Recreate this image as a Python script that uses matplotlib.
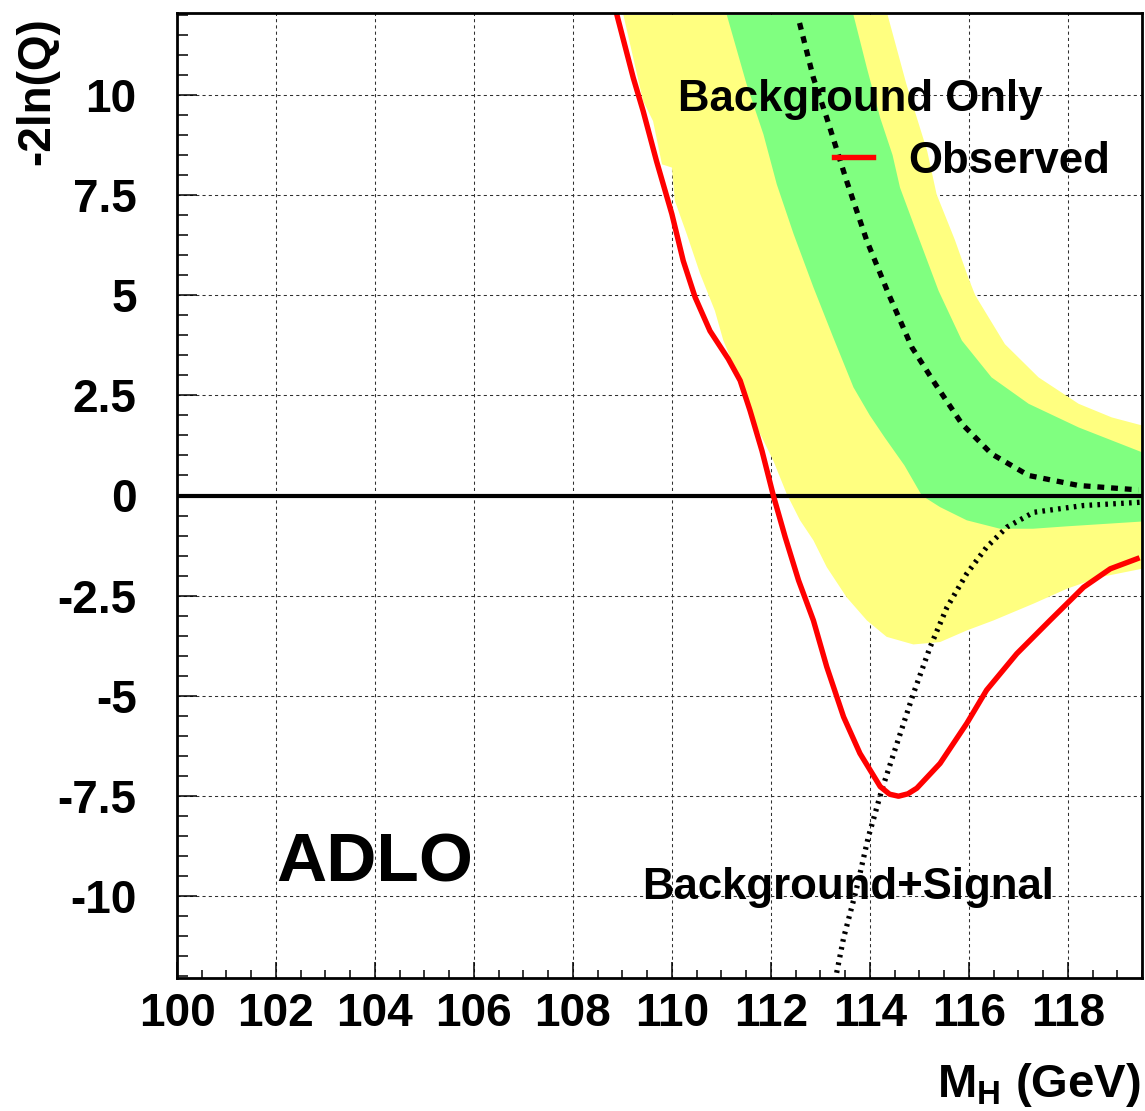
import matplotlib
matplotlib.use("Agg")
import matplotlib.pyplot as plt
import numpy as np

plt.rcParams['font.family'] = ['Liberation Sans', 'DejaVu Sans']
plt.rcParams['font.weight'] = 'bold'
plt.rcParams['mathtext.fontset'] = 'custom'
plt.rcParams['mathtext.rm'] = 'Liberation Sans:bold'
plt.rcParams['mathtext.bf'] = 'Liberation Sans:bold'
plt.rcParams['mathtext.it'] = 'Liberation Sans:bold'

# observed -2ln(Q) versus Higgs mass
obs_m = [108.89, 109.22, 109.42, 109.69, 110.00, 110.23, 110.47, 110.77, 111.14, 111.38,
         111.58, 111.82, 112.05, 112.29, 112.56, 112.86, 113.13, 113.47, 113.80, 114.21,
         114.40, 114.58, 114.77, 114.95, 115.42, 115.96, 116.36, 116.97, 117.64, 118.32,
         118.86, 119.40]
obs_q = [12.0, 10.43, 9.60, 8.35, 7.03, 5.86, 4.95, 4.11, 3.41, 2.87,
         2.12, 1.12, 0.0, -1.04, -2.12, -3.12, -4.28, -5.53, -6.44, -7.27,
         -7.46, -7.51, -7.45, -7.31, -6.69, -5.69, -4.86, -3.95, -3.12, -2.29,
         -1.83, -1.58]

# expected for background only (median)
bkg_m = [112.58, 112.86, 113.13, 113.53, 113.94, 114.38, 114.85, 115.32, 115.86, 116.46,
         117.21, 118.22, 119.43]
bkg_q = [11.80, 10.43, 9.43, 7.86, 6.36, 5.03, 3.70, 2.79, 1.79, 1.04,
         0.50, 0.25, 0.14]

# expected for background + signal
sig_m = [113.33, 113.47, 113.72, 113.97, 114.07, 114.24, 114.55, 114.88, 115.22, 115.56,
         115.96, 116.36, 116.77, 117.31, 118.32, 119.46]
sig_q = [-11.92, -11.05, -9.88, -8.53, -8.10, -7.36, -6.19, -4.95, -3.78, -2.79,
         -1.95, -1.29, -0.79, -0.42, -0.25, -0.17]

# 2 sigma band edges
lo2_m = [109.02, 109.42, 109.62, 109.80, 110.00, 110.06, 110.30, 110.57, 110.87, 111.04,
         111.38, 111.72, 112.05, 112.32, 112.59, 112.86, 113.13, 113.53, 113.94, 114.34,
         114.88, 115.42, 115.96, 116.50, 117.31, 117.98, 118.65, 119.50]
lo2_q = [12.0, 9.85, 9.35, 8.27, 8.19, 7.36, 6.53, 5.54, 4.61, 3.87,
         2.87, 1.70, 0.87, 0.04, -0.62, -1.12, -1.79, -2.54, -3.12, -3.53,
         -3.72, -3.66, -3.37, -3.12, -2.70, -2.33, -2.04, -1.83]
hi2_m = [114.36, 114.74, 115.16, 115.35, 115.72, 115.99, 116.13, 116.73, 117.41, 118.22,
         118.89, 119.50]
hi2_q = [12.0, 10.27, 8.60, 7.52, 6.38, 5.44, 5.0, 3.78, 2.95, 2.29,
         1.95, 1.75]

# 1 sigma band edges
lo1_m = [111.11, 111.51, 111.85, 112.12, 112.46, 112.86, 113.26, 113.67, 114.00, 114.30,
         114.70, 115.05, 115.42, 115.96, 116.63, 117.30, 117.98, 119.50]
lo1_q = [12.0, 10.27, 9.02, 7.77, 6.53, 5.20, 3.95, 2.70, 2.00, 1.45,
         0.75, 0.0, -0.29, -0.62, -0.83, -0.83, -0.77, -0.65]
hi1_m = [113.67, 113.94, 114.21, 114.46, 114.61, 114.91, 115.39, 115.86, 116.46, 117.21,
         118.22, 119.50]
hi1_q = [12.0, 10.68, 9.43, 8.50, 7.69, 6.69, 5.11, 3.87, 2.95, 2.29,
         1.70, 1.08]

xticks = [100, 102, 104, 106, 108, 110, 112, 114, 116, 118]
yticks = [-10, -7.5, -5, -2.5, 0, 2.5, 5, 7.5, 10]
ylabels = ['-10', '-7.5', '-5', '-2.5', '0', '2.5', '5', '7.5', '10']

fig = plt.figure(figsize=(11.45, 11.11), dpi=100)
ax = fig.add_axes([177/1145, 133/1111, 965/1145, 965/1111])

# bands: lower edge left to right, then upper edge back
ax.fill(lo2_m + hi2_m[::-1], lo2_q + hi2_q[::-1], color='#ffff80', lw=0, zorder=1)
ax.fill(lo1_m + hi1_m[::-1], lo1_q + hi1_q[::-1], color='#80ff80', lw=0, zorder=2)

ax.plot(bkg_m, bkg_q, color='k', lw=3.8, linestyle=(0, (1.3, 1.3)),
        dash_capstyle='butt', zorder=3)
ax.plot(sig_m, sig_q, color='k', lw=3.8, linestyle=(0, (0.5, 1.0)),
        dash_capstyle='butt', zorder=3)
ax.axhline(0, color='k', lw=3.0, zorder=4)
obs, = ax.plot(obs_m, obs_q, color='#ff0000', lw=3.9, zorder=5, label='Observed',
               solid_joinstyle='round')

ax.set_xlim(100, 119.5)
ax.set_ylim(-12.05, 12.05)
ax.set_xticks(xticks)
ax.set_xticklabels([str(t) for t in xticks])
ax.set_xticks(np.arange(100, 119.6, 0.5), minor=True)
ax.set_yticks(yticks)
ax.set_yticklabels(ylabels)
ax.set_yticks(np.arange(-12, 12.01, 0.5), minor=True)

ax.tick_params(axis='x', which='major', direction='in', length=11.5, width=1.1,
               labelsize=33, pad=10, top=False)
ax.tick_params(axis='x', which='minor', direction='in', length=5.8, width=1.1, top=False)
ax.tick_params(axis='y', which='major', direction='in', length=14.4, width=1.1,
               labelsize=33, pad=29, right=False)
ax.tick_params(axis='y', which='minor', direction='in', length=8, width=1.1, right=False)

ax.set_axisbelow(True)
ax.grid(True, which='major', color='#303030', linestyle=(0, (3, 3)), linewidth=0.75)
for s in ax.spines.values():
    s.set_linewidth(2.0)
    s.set_zorder(6)

ax.text(110.13, 9.6, 'Background Only', fontsize=31.5, ha='left', va='baseline', zorder=7)
ax.text(109.39, -10.07, 'Background+Signal', fontsize=31.5, ha='left', va='baseline', zorder=7)
ax.text(102.01, -9.64, 'ADLO', fontsize=50, ha='left', va='baseline', zorder=7)

ax.legend(handles=[obs], loc='center left', bbox_to_anchor=(0.6808, 0.8466),
          frameon=False, handlelength=0.89, handletextpad=0.8, borderpad=0,
          borderaxespad=0, prop={'size': 31.5, 'weight': 'bold'})

fig.text(37/1145, 1 - 17/1111, '-2ln(Q)', rotation=90, ha='center', va='top', fontsize=33)
fig.text(1141/1145, 1 - 1097/1111, r'$\mathbf{M_H}$ (GeV)', ha='right', va='baseline',
         fontsize=34)

fig.savefig('out.png', dpi=100)
